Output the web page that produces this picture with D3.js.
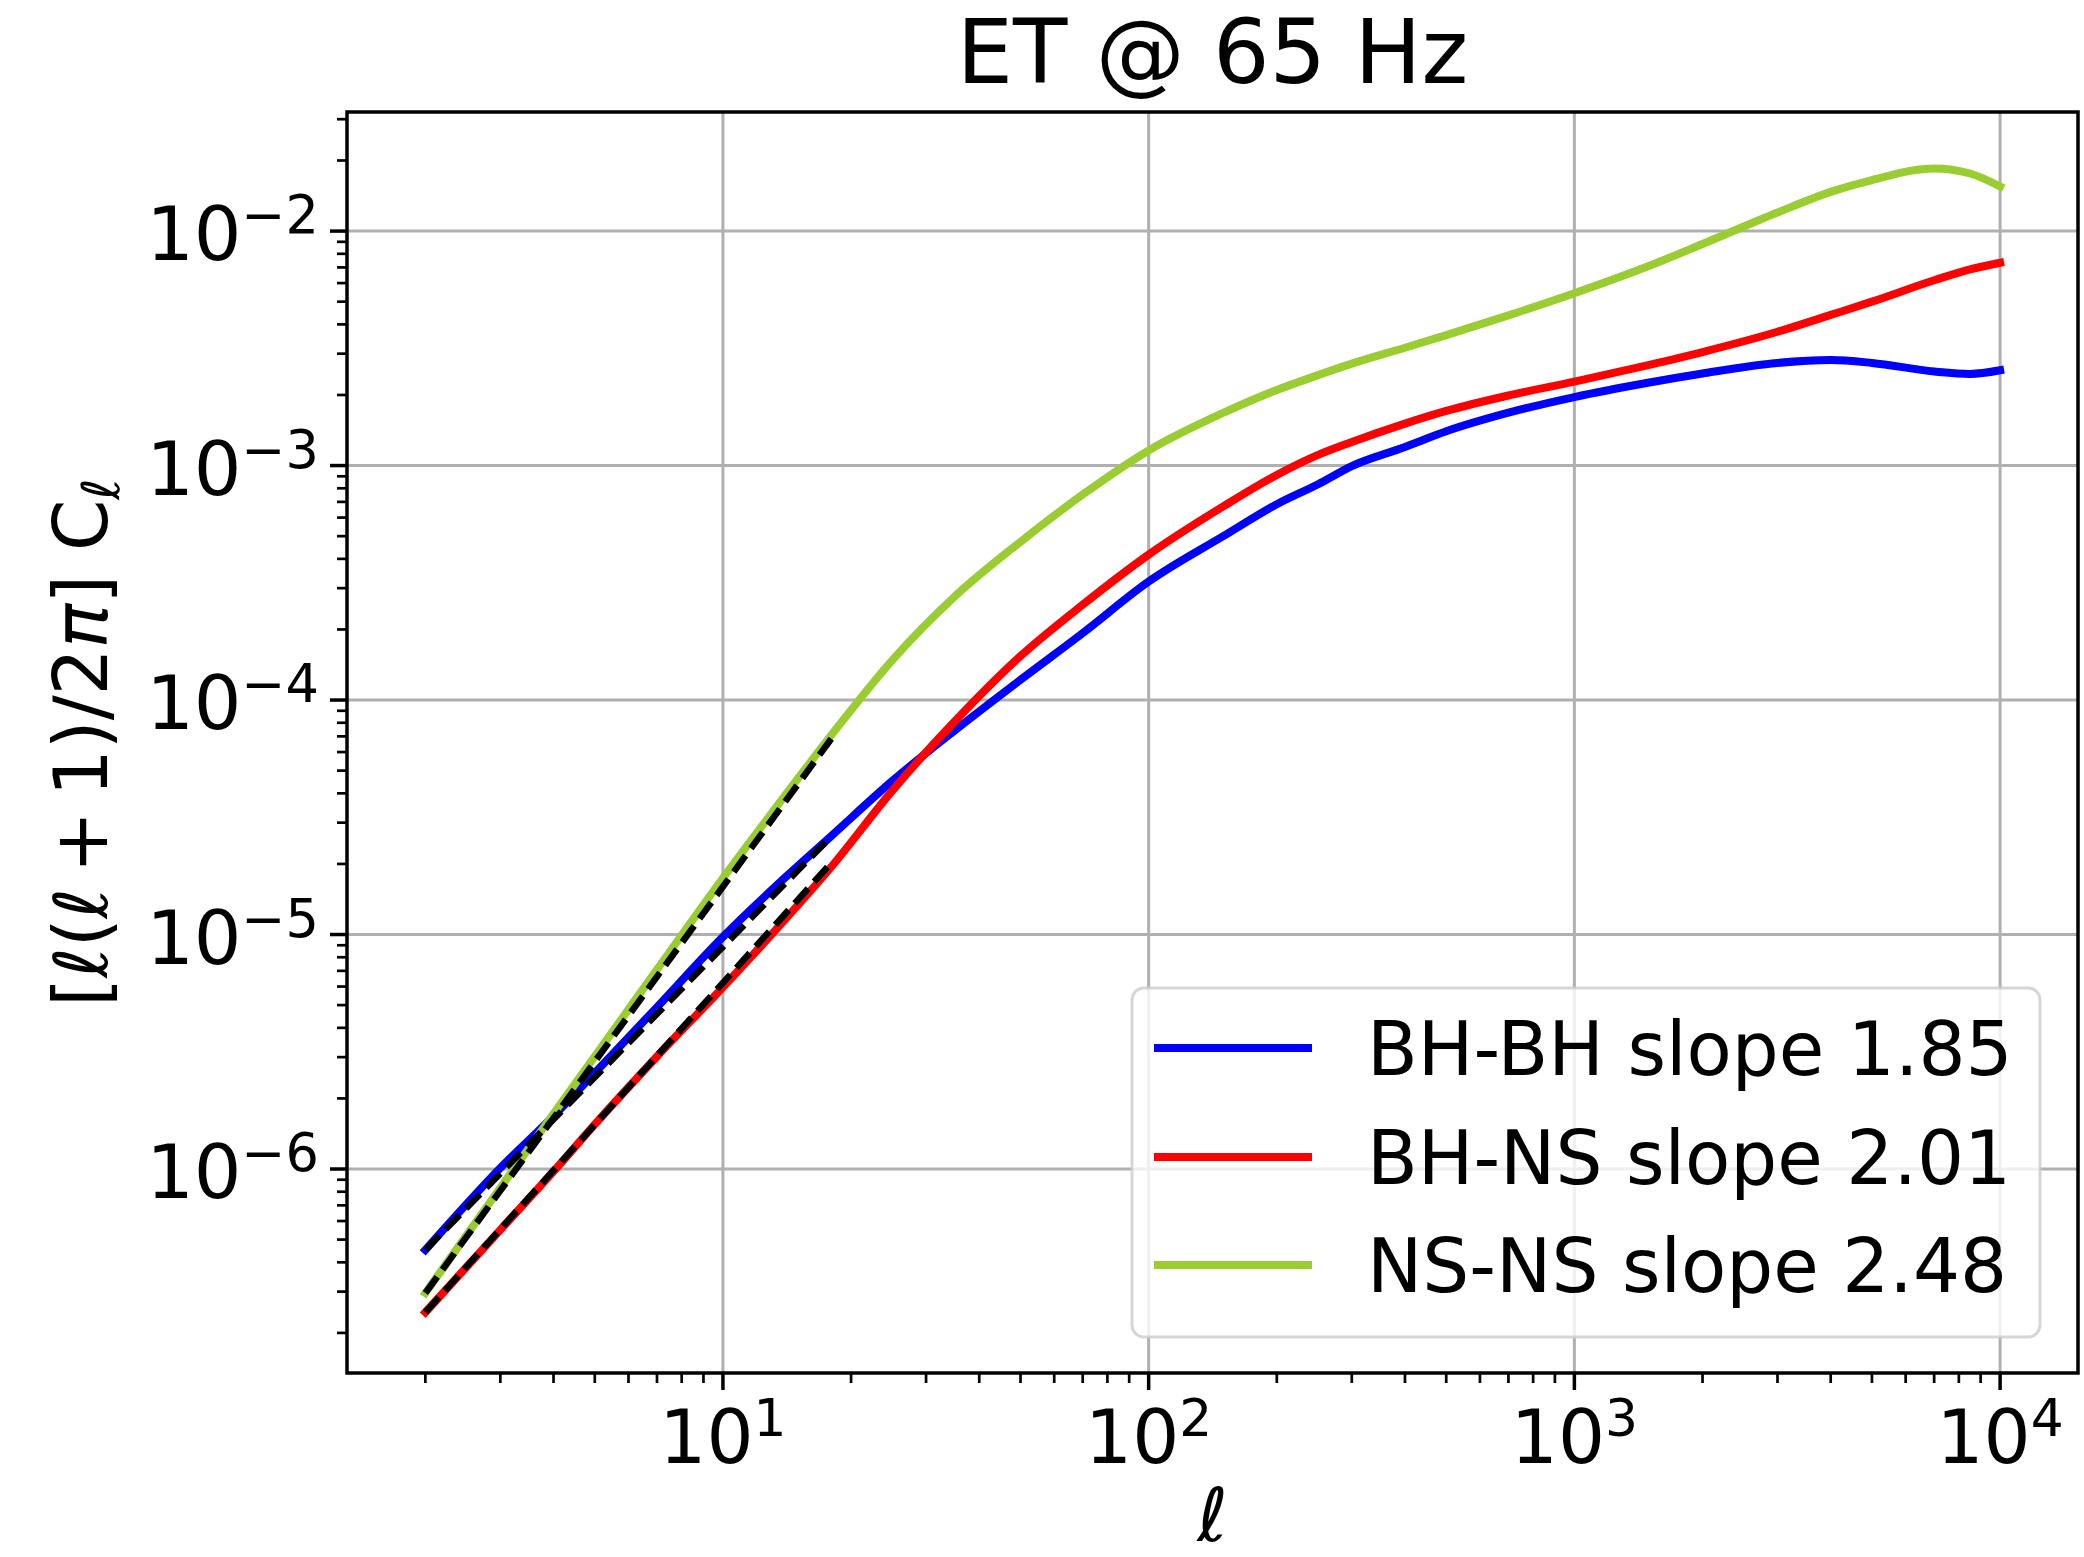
<!DOCTYPE html>
<html>
<head>
<meta charset="utf-8">
<script src="https://cdn.jsdelivr.net/npm/d3@7"></script>
<style>
  html, body { margin: 0; padding: 0; background: #ffffff; }
  svg { display: block; }
  text { font-family: "DejaVu Sans", sans-serif; fill: #000; }
</style>
</head>
<body>
<svg id="chart" width="2084" height="1557"></svg>
<script>
// ---------------- data ----------------
const ell  = [2, 3, 4, 5, 7, 10, 14, 18, 25, 35, 50, 70, 100, 150, 200, 250, 300, 400, 500, 700, 1000, 1500, 2000, 3000, 4000, 5000, 7000, 8500, 10000];
const bhbh = [4.52e-7, 1.01e-6, 1.68e-6, 2.57e-6, 4.90e-6, 9.77e-6, 1.75e-5, 2.64e-5, 4.52e-5, 7.41e-5, 1.22e-4, 1.93e-4, 3.20e-4, 5.01e-4, 6.84e-4, 8.32e-4, 9.95e-4, 1.20e-3, 1.40e-3, 1.68e-3, 1.96e-3, 2.26e-3, 2.47e-3, 2.74e-3, 2.82e-3, 2.74e-3, 2.52e-3, 2.46e-3, 2.55e-3];
const bhns = [2.45e-7, 5.50e-7, 9.77e-7, 1.55e-6, 3.02e-6, 5.96e-6, 1.16e-5, 1.95e-5, 4.11e-5, 8.09e-5, 1.54e-4, 2.55e-4, 4.17e-4, 6.71e-4, 9.12e-4, 1.11e-3, 1.26e-3, 1.51e-3, 1.71e-3, 1.99e-3, 2.28e-3, 2.69e-3, 3.05e-3, 3.72e-3, 4.39e-3, 5.00e-3, 6.17e-3, 6.87e-3, 7.33e-3];
const nsns = [2.96e-7, 8.32e-7, 1.72e-6, 3.02e-6, 7.08e-6, 1.74e-5, 3.92e-5, 7.11e-5, 1.48e-4, 2.76e-4, 4.73e-4, 7.52e-4, 1.16e-3, 1.68e-3, 2.10e-3, 2.43e-3, 2.72e-3, 3.18e-3, 3.60e-3, 4.37e-3, 5.43e-3, 7.11e-3, 8.81e-3, 1.20e-2, 1.47e-2, 1.65e-2, 1.85e-2, 1.76e-2, 1.55e-2];

// power-law fits (dashed black), endpoints
const fitEll  = [2, 18];
const fitBHBH = [4.52e-7, 2.63e-5];
const fitBHNS = [2.45e-7, 2.03e-5];
const fitNSNS = [2.96e-7, 6.87e-5];

const seriesNames  = ["BH-BH slope 1.85", "BH-NS slope 2.01", "NS-NS slope 2.48"];
const seriesColors = ["#0000ff", "#ff0000", "#9acd32"];

const xLim = [1.309, 15240];
const yLim = [1.349e-7, 0.0322];
const xMajor = [10, 100, 1000, 10000];
const xMajorExp = ["1", "2", "3", "4"];
const yMajor = [1e-6, 1e-5, 1e-4, 1e-3, 1e-2];
const yMajorExp = ["\u22126", "\u22125", "\u22124", "\u22123", "\u22122"];
const titleText = "ET @ 65 Hz";

// ---------------- layout ----------------
const W = 2084, H = 1557;
const L = 347, R = 2078, T = 112, B = 1373;
const FS = 74;

const svg = d3.select("#chart");
svg.append("rect").attr("width", W).attr("height", H).attr("fill", "#fff");

const x = d3.scaleLog().domain(xLim).range([L, R]);
const y = d3.scaleLog().domain(yLim).range([B, T]);

function minorTicks(lim) {
  const out = [];
  const e0 = Math.floor(Math.log10(lim[0])), e1 = Math.ceil(Math.log10(lim[1]));
  for (let e = e0; e <= e1; e++) {
    for (let m = 2; m <= 9; m++) {
      const v = m * Math.pow(10, e);
      if (v >= lim[0] && v <= lim[1]) out.push(v);
    }
  }
  return out;
}

// grid
const grid = svg.append("g");
grid.selectAll("line.gx").data(xMajor).enter().append("line")
  .attr("x1", d => x(d)).attr("x2", d => x(d)).attr("y1", T).attr("y2", B)
  .attr("stroke", "#b0b0b0").attr("stroke-width", 3);
grid.selectAll("line.gy").data(yMajor).enter().append("line")
  .attr("y1", d => y(d)).attr("y2", d => y(d)).attr("x1", L).attr("x2", R)
  .attr("stroke", "#b0b0b0").attr("stroke-width", 3);

svg.append("clipPath").attr("id", "clip").append("rect")
  .attr("x", L).attr("y", T).attr("width", R - L).attr("height", B - T);

const plot = svg.append("g").attr("clip-path", "url(#clip)");
const line = d3.line().x(d => x(d[0])).y(d => y(d[1])).curve(d3.curveMonotoneX);
const allSeries = [bhbh, bhns, nsns];
allSeries.forEach((vals, i) => {
  plot.append("path")
    .datum(ell.map((l, k) => [l, vals[k]]))
    .attr("d", line)
    .attr("fill", "none")
    .attr("stroke", seriesColors[i])
    .attr("stroke-width", 8)
    .attr("stroke-linecap", "square")
    .attr("stroke-linejoin", "round");
});
const fits = [fitBHBH, fitBHNS, fitNSNS];
const straight = d3.line().x(d => x(d[0])).y(d => y(d[1]));
fits.forEach(f => {
  plot.append("path")
    .datum(fitEll.map((l, k) => [l, f[k]]))
    .attr("d", straight)
    .attr("fill", "none")
    .attr("stroke", "#000")
    .attr("stroke-width", 6.5)
    .attr("stroke-dasharray", "20 9")
    .attr("stroke-linecap", "butt");
});

// ticks
const ax = svg.append("g");
ax.selectAll("line.xM").data(xMajor).enter().append("line")
  .attr("x1", d => x(d)).attr("x2", d => x(d)).attr("y1", B).attr("y2", B + 17)
  .attr("stroke", "#000").attr("stroke-width", 3.5);
ax.selectAll("line.xm").data(minorTicks(xLim)).enter().append("line")
  .attr("x1", d => x(d)).attr("x2", d => x(d)).attr("y1", B).attr("y2", B + 10)
  .attr("stroke", "#000").attr("stroke-width", 2.7);
ax.selectAll("line.yM").data(yMajor).enter().append("line")
  .attr("y1", d => y(d)).attr("y2", d => y(d)).attr("x1", L).attr("x2", L - 17)
  .attr("stroke", "#000").attr("stroke-width", 3.5);
ax.selectAll("line.ym").data(minorTicks(yLim)).enter().append("line")
  .attr("y1", d => y(d)).attr("y2", d => y(d)).attr("x1", L).attr("x2", L - 10)
  .attr("stroke", "#000").attr("stroke-width", 2.7);

xMajor.forEach((v, i) => {
  const t = ax.append("text")
    .attr("x", x(v)).attr("y", B + 90)
    .attr("text-anchor", "middle")
    .attr("font-size", FS);
  t.append("tspan").text("10");
  t.append("tspan").attr("dy", -27).attr("font-size", FS * 0.7).text(xMajorExp[i]);
});
yMajor.forEach((v, i) => {
  const t = ax.append("text")
    .attr("x", L - 28).attr("y", y(v) + 29)
    .attr("text-anchor", "end")
    .attr("font-size", FS + 1);
  t.append("tspan").text("10");
  t.append("tspan").attr("dy", -27).attr("font-size", (FS + 1) * 0.7).text(yMajorExp[i]);
});

// spines
svg.append("rect").attr("x", L).attr("y", T).attr("width", R - L).attr("height", B - T)
  .attr("fill", "none").attr("stroke", "#000").attr("stroke-width", 3.5);

// title
svg.append("text").attr("x", (L + R) / 2).attr("y", 83)
  .attr("text-anchor", "middle").attr("font-size", 89).text(titleText);

// x label
svg.append("text").attr("x", (L + R) / 2).attr("y", 1541)
  .attr("text-anchor", "middle").attr("font-size", FS)
  .attr("font-style", "italic").text("\u2113");

// y label
const yl = svg.append("text")
  .attr("transform", `translate(107, ${(T + B) / 2}) rotate(-90)`)
  .attr("text-anchor", "middle").attr("font-size", FS);
yl.append("tspan").text("[");
yl.append("tspan").attr("font-style", "italic").text("\u2113");
yl.append("tspan").text("(");
yl.append("tspan").attr("font-style", "italic").text("\u2113");
yl.append("tspan").text("\u2009+\u20091)/2");
yl.append("tspan").attr("font-style", "italic").text("\u03c0");
yl.append("tspan").text("] C");
yl.append("tspan").attr("font-style", "italic").attr("font-size", FS * 0.7).attr("dy", 12).text("\u2113");

// legend
const lg = svg.append("g");
lg.append("rect").attr("x", 1132).attr("y", 988).attr("width", 908).attr("height", 349)
  .attr("rx", 12).attr("ry", 12)
  .attr("fill", "#fff").attr("fill-opacity", 0.8)
  .attr("stroke", "#cccccc").attr("stroke-opacity", 0.8).attr("stroke-width", 3);
const legY = [1048, 1157, 1265];
seriesNames.forEach((name, i) => {
  lg.append("line").attr("x1", 1158).attr("x2", 1308).attr("y1", legY[i]).attr("y2", legY[i])
    .attr("stroke", seriesColors[i]).attr("stroke-width", 8).attr("stroke-linecap", "square");
  lg.append("text").attr("x", 1367).attr("y", legY[i] + 27).attr("font-size", FS).text(name);
});
</script>
</body>
</html>
